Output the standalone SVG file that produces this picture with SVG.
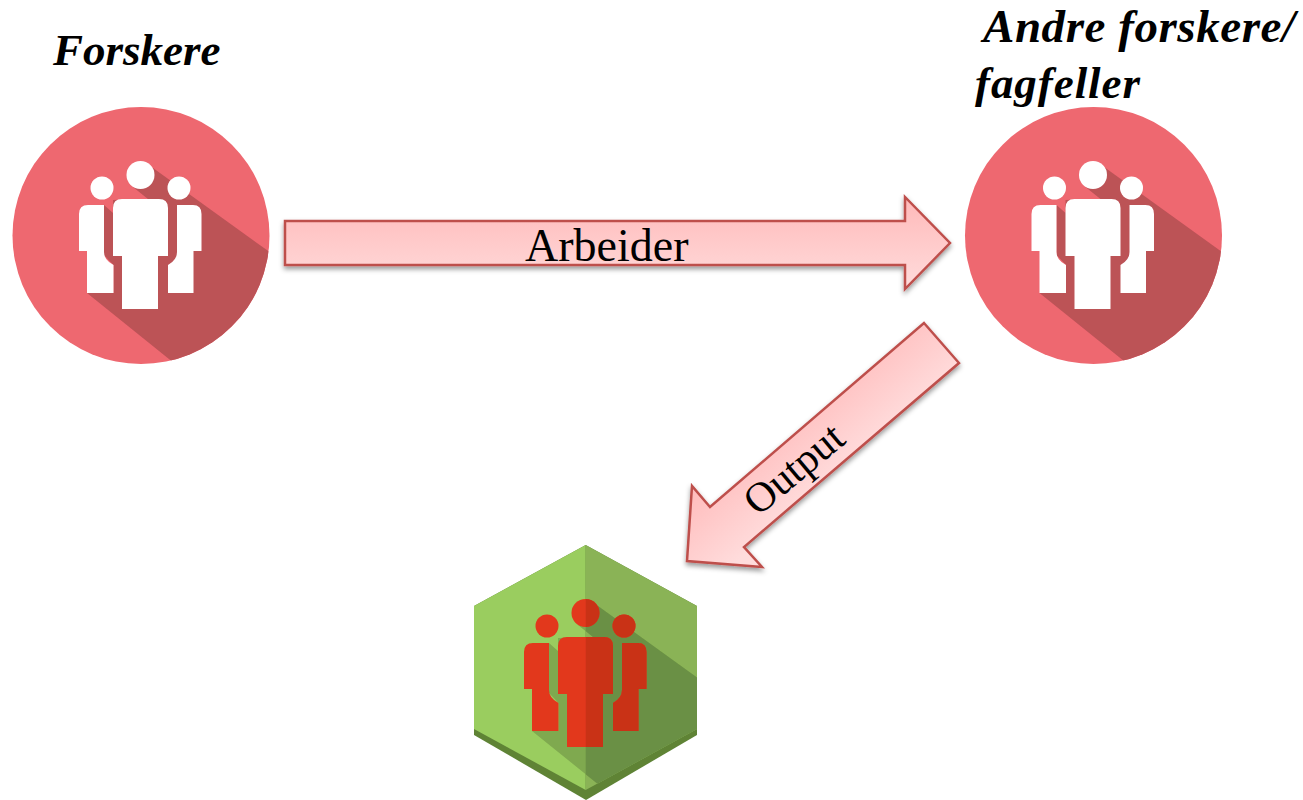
<svg xmlns="http://www.w3.org/2000/svg" xmlns:xlink="http://www.w3.org/1999/xlink" width="1303" height="800" viewBox="0 0 1303 800">
<style>
.head{font-family:"Liberation Serif",serif;font-weight:bold;font-style:italic;font-size:45px;fill:#000}
.lab{font-family:"Liberation Serif",serif;fill:#000}
.arrow{stroke:#BE4F4C;stroke-width:2.5;stroke-linejoin:miter;filter:url(#sh)}
</style>
<defs>
<filter id="sh" x="-10%" y="-20%" width="120%" height="140%"><feDropShadow dx="0" dy="3" stdDeviation="2.5" flood-color="#000" flood-opacity="0.4"/></filter>
<filter id="soft" x="-5%" y="-5%" width="110%" height="110%"><feGaussianBlur stdDeviation="0.5"/></filter>
<linearGradient id="g1" x1="0" y1="0" x2="0" y2="1"><stop offset="0" stop-color="#FFB9B9"/><stop offset="1" stop-color="#FFDCDC"/></linearGradient>
<linearGradient id="g2" gradientUnits="userSpaceOnUse" x1="790" y1="395" x2="850" y2="465"><stop offset="0" stop-color="#FFB9B9"/><stop offset="1" stop-color="#FFDCDC"/></linearGradient>
<clipPath id="cc"><circle cx="141" cy="235.5" r="128.5"/></clipPath>
<clipPath id="hx"><path d="M585.7 545L697 606V729L586 790L474 729V606Z"/></clipPath>
<clipPath id="rh"><rect x="585.7" y="545" width="120" height="260"/></clipPath>
<path id="sd" d="M153 168L300 274V384H200L87 293H113.5V265L104 255V205L113 213V200L143 199H148L133 187V170Z"/>
<g id="people">
<circle cx="140.5" cy="175" r="14"/><circle cx="102" cy="188" r="11.5"/><circle cx="179" cy="188" r="11.5"/>
<path d="M122 309V256H113V208Q113 199 122 199H159Q168 199 168 208V256H158V309Z"/>
<path d="M87 293V251H79V214Q79 205 88 205H104V252Q104 260 113.5 265V293Z"/>
<path d="M193.5 293V251H201.5V214Q201.5 205 193 205H177V252Q177 260 168 265V293Z"/>
</g>
<g id="badge">
<circle cx="141" cy="235.5" r="128.5" fill="#EE6770"/>
<use xlink:href="#sd" href="#sd" fill="#BC5257" clip-path="url(#cc)"/>
<use xlink:href="#people" href="#people" fill="#fff"/>
</g>
</defs>
<rect width="1303" height="800" fill="#fff"/>
<g id="forskere">
<g filter="url(#soft)"><use xlink:href="#badge" href="#badge"/></g>
<text class="head" x="53" y="65">Forskere</text>
</g>
<g id="andre-forskere">
<g filter="url(#soft)"><use xlink:href="#badge" href="#badge" x="952.5"/></g>
<text class="head" x="983" y="42" style="font-size:47px" textLength="312">Andre forskere/</text>
<text class="head" x="975" y="98" textLength="165">fagfeller</text>
</g>
<g id="output-node">
<g filter="url(#soft)">
<path d="M585.7 545L697 606V735L586 800L474 735V606Z" fill="#5E8336"/>
<path d="M585.7 545V790L474 729V606Z" fill="#9ACD5F"/>
<path d="M585.7 545L697 606V729L585.7 790Z" fill="#8AB356"/>
<g clip-path="url(#hx)">
<use xlink:href="#sd" href="#sd" x="445" y="438" fill="#7FA94F"/>
<g clip-path="url(#rh)"><use xlink:href="#sd" href="#sd" x="445" y="438" fill="#6B9044"/></g>
</g>
<use xlink:href="#people" href="#people" x="445" y="438" fill="#E2391C"/>
<g clip-path="url(#rh)"><use xlink:href="#people" href="#people" x="445" y="438" fill="#C93319"/></g>
</g>
</g>
<g id="connectors">
<g id="arbeider-arrow">
<path class="arrow" fill="url(#g1)" d="M285 221H905V197L950 243L905 289V265H285Z"/>
<text class="lab" x="525" y="261" font-size="46">Arbeider</text>
</g>
<g id="output-arrow">
<path class="arrow" fill="url(#g2)" d="M924 323L959 363L744 547L762 567L687 561L692 486L710 507Z"/>
<text class="lab" x="758" y="517" font-size="42" transform="rotate(-40 758 517)">Output</text>
</g>
</g>
</svg>
